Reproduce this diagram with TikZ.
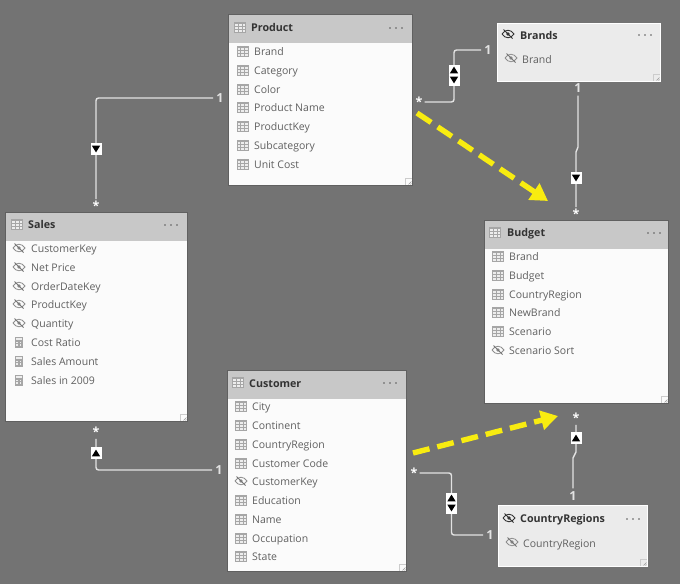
\documentclass[tikz,border=0pt]{standalone}
\usepackage{fontspec}
\setmainfont{Open Sans}
\usetikzlibrary{arrows.meta,positioning}
\definecolor{canvasgray}{HTML}{737373}
\definecolor{headgray}{HTML}{C8C8C8}
\definecolor{bodywhite}{HTML}{FBFBFB}
\definecolor{hiddengray}{HTML}{EBEBEB}
\definecolor{iconfill}{HTML}{EDEDED}
\definecolor{icongray}{HTML}{A6A6A6}
\definecolor{fieldgray}{HTML}{606060}
\definecolor{titlegray}{HTML}{333333}
\definecolor{relwhite}{HTML}{E2E2E2}
\definecolor{markyellow}{HTML}{F8EC10}
\tikzset{
	tablebox/.style={draw=gray!75!black,line width=.8pt,fill=bodywhite,anchor=north west,inner sep=0pt},
	hiddenbox/.style={draw=white,line width=1.2pt,fill=hiddengray,anchor=north west,inner sep=0pt},
	tablehead/.style={fill=headgray,anchor=north west,inner sep=0pt,minimum height=28pt},
	tabletitle/.style={anchor=west,inner sep=0pt,text height=9pt,text depth=1pt,font=\fontsize{10.7}{13}\selectfont\bfseries,text=titlegray},
	fieldtext/.style={anchor=west,inner sep=0pt,text height=9pt,text depth=1pt,font=\fontsize{10.5}{13}\selectfont,text=fieldgray},
	relline/.style={draw=relwhite,line width=1.4pt,rounded corners=2.5pt},
	manylabel/.style={text=white,inner sep=2pt,font=\fontsize{12.5}{12}\selectfont\bfseries},
	onelabel/.style={text=relwhite,inner sep=3pt,font=\fontsize{12.5}{13}\selectfont\bfseries},
	relmark/.style={fill=white,draw=none,minimum width=11pt,inner sep=0pt},
	yellowarrow/.style={draw=markyellow,line width=5.4pt,dash pattern=on 17pt off 8pt,-{Triangle[length=17pt,width=19pt,fill=markyellow]}},
	tbl/.pic={
		\fill[iconfill] (-5.7,-5.2) rectangle (5.7,5.2);
		\fill[icongray] (-5.7,-5.2) rectangle (5.7,-3);
		\draw[icongray,line width=.6pt] (-5.7,-5.2) rectangle (5.7,5.2);
		\foreach \gx in {-1.9,1.9} \draw[icongray,line width=.45pt] (\gx,-5.2) -- (\gx,5.2);
		\foreach \gy in {-.3,2.4} \draw[icongray,line width=.45pt] (-5.7,\gy) -- (5.7,\gy);
	},
	eye/.pic={
		\draw[icongray!85!black,line width=.8pt] (-6,0) .. controls (-2.5,-5) and (2.5,-5) .. (6,0) .. controls (2.5,5) and (-2.5,5) .. (-6,0);
		\fill[icongray!85!black] (0,0) circle (1.8pt);
		\draw[icongray!70!black,line width=.8pt] (-4.5,-4.5) -- (4.5,4.5);
	},
	darkeye/.pic={
		\draw[titlegray,line width=.9pt] (-6,0) .. controls (-2.5,-5) and (2.5,-5) .. (6,0) .. controls (2.5,5) and (-2.5,5) .. (-6,0);
		\fill[titlegray] (0,0) circle (1.8pt);
		\draw[titlegray,line width=1pt] (-4.5,-4.5) -- (4.5,4.5);
	},
	calc/.pic={
		\fill[icongray] (-4.2,-5.5) rectangle (4.2,5.5);
		\fill[iconfill] (-2.8,-4) rectangle (2.8,-1.8);
		\foreach \gy in {0,2.4} \foreach \gx in {-2.6,0.6} \fill[iconfill] (\gx,\gy) rectangle ++(1.8,1.4);
	},
	dots/.pic={
		\foreach \gx in {-6,0,6} \fill[gray!70!black] (\gx,0) circle (.8pt);
	},
	grip/.pic={
		\draw[gray!40,line width=.5pt] (-7,0) -- (-7,-7) -- (0,-7);
		\draw[gray!80,line width=.5pt] (-3.5,-.6) -- (-.6,-3.5) (-1.5,-.6) -- (-.6,-1.5);
	},
	downtri/.pic={\fill[black] (-4.2,-3.4) -- (4.2,-3.4) -- (0,3.4) -- cycle;},
	uptri/.pic={\fill[black] (-4.2,3.4) -- (4.2,3.4) -- (0,-3.4) -- cycle;}
}
\begin{document}
\begin{tikzpicture}[x=1pt,y=-1pt]
	\useasboundingbox[fill=canvasgray] (0,0) rectangle (680,584);
	% Tables
	\node[tablebox,minimum width=184pt,minimum height=171pt] (product) at (228,14) {};
	\node[tablehead,minimum width=183pt] (producthead) at (228.4,14.4) {};
	\node[tabletitle] (producttitle) at (251,27.5) {Product};
	\pic at (240,27) {tbl};
	\pic at (396,28) {dots};
	\pic at (412,185) {grip};
	\foreach \y/\fld/\ico [count=\i] in {51/Brand/tbl,70/Category/tbl,89/Color/tbl,107/Product Name/tbl,126/ProductKey/tbl,145/Subcategory/tbl,164/Unit Cost/tbl}{
		\pic at (242.5,\y) {\ico};
		\node[fieldtext] (product\i) at (254,\y) {\fld};}
	\node[tablebox,minimum width=182pt,minimum height=209pt] (sales) at (5,212) {};
	\node[tablehead,minimum width=181pt] (saleshead) at (5.4,212.4) {};
	\node[tabletitle] (salestitle) at (28,224) {Sales};
	\pic at (17,224) {tbl};
	\pic at (171,225) {dots};
	\pic at (187,421) {grip};
	\foreach \y/\fld/\ico [count=\i] in {248/CustomerKey/eye,267/Net Price/eye,286/OrderDateKey/eye,304/ProductKey/eye,323/Quantity/eye,342/Cost Ratio/calc,361/Sales Amount/calc,380/Sales in 2009/calc}{
		\pic at (19,\y) {\ico};
		\node[fieldtext] (sales\i) at (31,\y) {\fld};}
	\node[tablebox,minimum width=184pt,minimum height=183pt] (budget) at (484,220) {};
	\node[tablehead,minimum width=183pt] (budgethead) at (484.4,220.4) {};
	\node[tabletitle] (budgettitle) at (507,232.5) {Budget};
	\pic at (495,232) {tbl};
	\pic at (654,233) {dots};
	\pic at (668,403) {grip};
	\foreach \y/\fld/\ico [count=\i] in {256/Brand/tbl,275/Budget/tbl,294/CountryRegion/tbl,312/NewBrand/tbl,331/Scenario/tbl,350/Scenario Sort/eye}{
		\pic at (498,\y) {\ico};
		\node[fieldtext] (budget\i) at (509,\y) {\fld};}
	\node[tablebox,minimum width=179pt,minimum height=201pt] (customer) at (227,370) {};
	\node[tablehead,minimum width=178pt] (customerhead) at (227.4,370.4) {};
	\node[tabletitle] (customertitle) at (249,383) {Customer};
	\pic at (238,382) {tbl};
	\pic at (390,383) {dots};
	\pic at (406,571) {grip};
	\foreach \y/\fld/\ico [count=\i] in {406/City/tbl,425/Continent/tbl,444/CountryRegion/tbl,463/Customer Code/tbl,481/CustomerKey/eye,500/Education/tbl,519/Name/tbl,538/Occupation/tbl,556/State/tbl}{
		\pic at (241,\y) {\ico};
		\node[fieldtext] (customer\i) at (252,\y) {\fld};}
	\node[hiddenbox,minimum width=163pt,minimum height=58pt] (brands) at (497,23) {};
	\node[tabletitle] (brandstitle) at (520,35) {Brands};
	\pic at (508,34) {darkeye};
	\pic at (645,35) {dots};
	\pic at (660,81) {grip};
	\pic at (511,58) {eye};
	\node[fieldtext] (brands1) at (522,59) {Brand};
	\node[hiddenbox,minimum width=149pt,minimum height=61pt] (countryregions) at (498,505) {};
	\node[tabletitle] (countryregionstitle) at (520,518) {CountryRegions};
	\pic at (509,518) {darkeye};
	\pic at (633,519) {dots};
	\pic at (647,566) {grip};
	\pic at (512,542) {eye};
	\node[fieldtext] (countryregions1) at (523,543) {CountryRegion};
	% Cardinality labels
	\node[onelabel] (oneproduct) at (220,98) {1};
	\node[manylabel] (manysales) at (96,206) {*};
	\node[manylabel] (manyproduct) at (419,102) {*};
	\node[onelabel] (onebrands) at (488,50) {1};
	\node[onelabel] (onebrandsb) at (578,88) {1};
	\node[manylabel] (manybudget) at (576,214) {*};
	\node[manylabel] (manysalesb) at (96,432) {*};
	\node[onelabel] (onecustomer) at (219,470) {1};
	\node[manylabel] (manycustomer) at (414,473) {*};
	\node[onelabel] (oneregions) at (490,535) {1};
	\node[onelabel] (oneregionsb) at (573,496) {1};
	\node[manylabel] (manybudgetb) at (576,418) {*};
	% Relationships
	\coordinate (bendbrands) at (454,75);
	\coordinate (bendregions) at (451.5,503);
	\coordinate (jogbudgeta) at (578,147);
	\coordinate (jogbudgetb) at (576,152);
	\coordinate (jogregionsa) at (573,458);
	\coordinate (jogregionsb) at (576,452);
	\draw[relline] (oneproduct) -| (manysales);
	\draw[relline] (manyproduct) -| (bendbrands) |- (onebrands);
	\draw[relline,rounded corners=0pt] (onebrandsb) -- (jogbudgeta) -- (jogbudgetb) -- (manybudget);
	\draw[relline] (manysalesb) |- (onecustomer);
	\draw[relline] (manycustomer) -| (bendregions) |- (oneregions);
	\draw[relline,rounded corners=0pt] (oneregionsb) -- (jogregionsa) -- (jogregionsb) -- (manybudgetb);
	% Relationship marks
	\node[relmark,minimum height=12pt] (markproduct) at (96,149) {};
	\node[relmark,minimum height=21pt] (markbrands) at (bendbrands) {};
	\node[relmark,minimum height=12pt] (markbudget) at (576,178) {};
	\node[relmark,minimum height=12pt] (marksales) at (96,453) {};
	\node[relmark,minimum height=21pt] (markcustomer) at (bendregions) {};
	\node[relmark,minimum height=12pt] (markregions) at (576,438) {};
	\pic at (markproduct) {downtri};
	\pic at ([yshift=5pt]markbrands.center) {uptri};
	\pic at ([yshift=-5pt]markbrands.center) {downtri};
	\pic at (markbudget) {downtri};
	\pic at (marksales) {uptri};
	\pic at ([yshift=5pt]markcustomer.center) {uptri};
	\pic at ([yshift=-5pt]markcustomer.center) {downtri};
	\pic at (markregions) {uptri};
	% Yellow arrows
	\coordinate (yellowastart) at (417,113);
	\coordinate (yellowaend) at (548,201);
	\coordinate (yellowbstart) at (413,453);
	\coordinate (yellowbend) at (558,416);
	\draw[yellowarrow] (yellowastart) -- (yellowaend);
	\draw[yellowarrow] (yellowbstart) -- (yellowbend);
\end{tikzpicture}
\end{document}
